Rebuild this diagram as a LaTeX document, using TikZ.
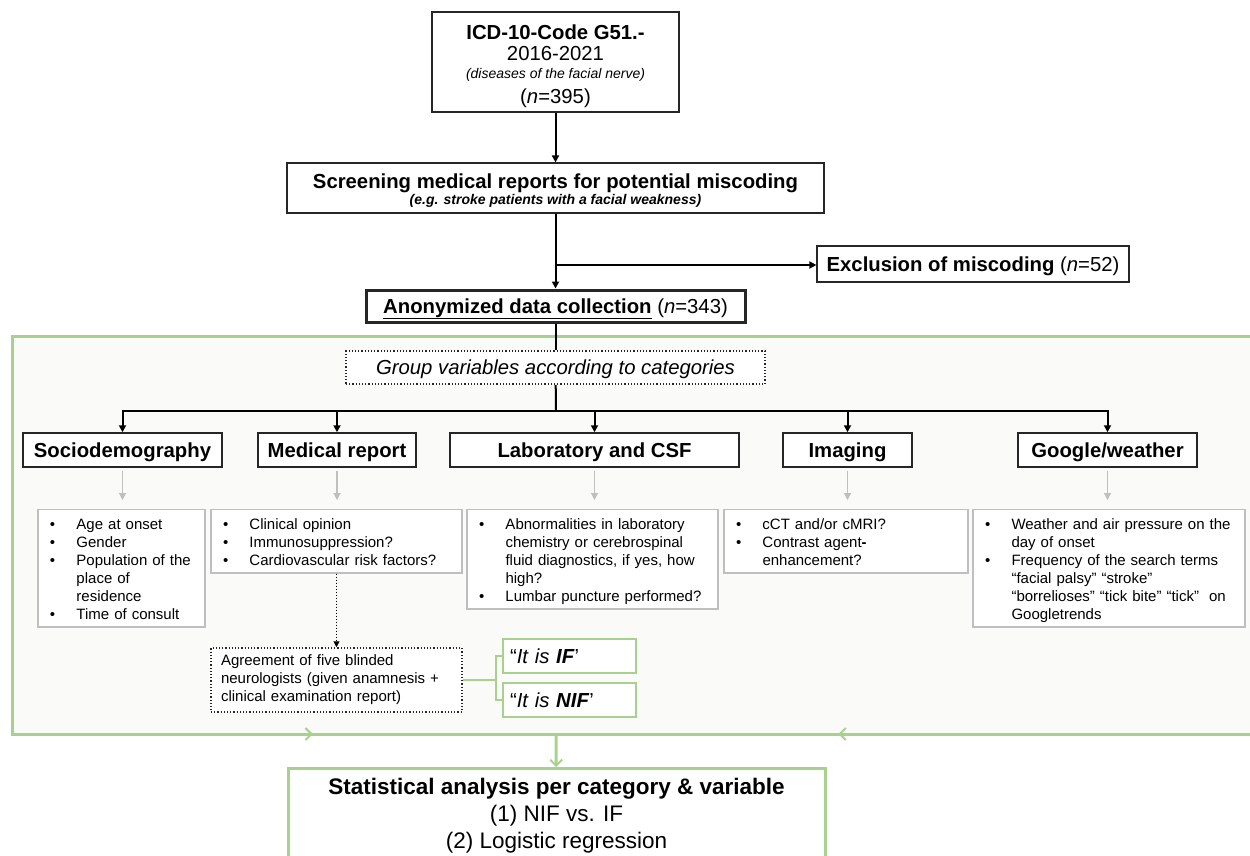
\documentclass[tikz,border=0pt]{standalone}
\usepackage{fontspec}
\setmainfont{Liberation Sans}
\usepackage{tikz}
\usetikzlibrary{
    arrows.meta,
    positioning,
    decorations.markings,
    calc
}
\definecolor{frame green}{RGB}{169,209,142}
\definecolor{frame fill}{RGB}{250,250,248}
\definecolor{list gray}{RGB}{191,191,191}
\definecolor{box line}{RGB}{38,38,38}
\tikzset{
    % Colors
    nice green/.style={color=frame green},
    light gray/.style={color=list gray},
    %
    % Fonts
    big font/.style={font=\fontsize{20.3}{23}\selectfont},
    head font/.style={font=\fontsize{20.3}{23}\selectfont\bfseries},
    list font/.style={font=\fontsize{15}{18}\selectfont},
    one line/.style={text height=18.4pt,text depth=4.3pt},
    %
    % Boxes
    flow box/.style={draw=box line,line width=1.2pt,fill=white,align=center,inner sep=0pt,big font},
    cat box/.style={flow box,line width=1.5pt,minimum height=34,head font,one line},
    list box/.style={draw=list gray,line width=1.2pt,fill=white,anchor=north,align=left,inner xsep=7pt,inner ysep=2pt,list font},
    frame box/.style={draw=frame green,line width=3pt,fill=frame fill,inner sep=0pt,outer sep=0pt},
    answer box/.style={draw=frame green,line width=1.2pt,fill=white,minimum width=133,minimum height=34,text width=119,inner xsep=7pt,align=left,big font,one line},
    %
    % Arrows
    arrow tip/.tip={Triangle[length=7pt,width=7pt]},
    green tip/.tip={Straight Barb[length=6pt,width=12pt,line width=2pt]},
    flow line/.style={line width=2pt},
    arr/.style={flow line,-{arrow tip}},
    gray arr/.style={light gray,line width=1.2pt,-{Triangle[length=7pt,width=7pt]},shorten <=3pt,shorten >=9pt},
    dotted arr/.style={line width=1pt,dotted,-{Triangle[length=6pt,width=6pt]}},
    green line/.style={nice green,line width=3pt},
    green arr/.style={green line,-{green tip}},
    midarrow/.style={postaction=decorate,decoration={markings, mark=at position #1 with {\arrow[nice green]{green tip}}}},
    midarrow/.default=.5
}
% one bullet of a list box, continuation lines hang under the text
\newcommand{\bul}[1]{\par\hangindent=31.5pt\hangafter=1\noindent\makebox[31.5pt][l]{\hspace{5pt}\textbullet}\strut#1\strut\par}

\begin{document}
\begin{tikzpicture}[x=1pt,y=-1pt]
    \useasboundingbox (0,0) rectangle (1250,856);
    % green frame around the variables
    \node[frame box,minimum width=1250,minimum height=398] (frame) at (637,535) {};

    \node[flow box,minimum width=247,minimum height=100,font=\fontsize{20.3}{21}\selectfont] (icd) at (555.5,62)
        {\rule{0pt}{23pt}{\bfseries ICD-10-Code G51.-}\\2016-2021\\[-2.3pt]{\fontsize{14}{16}\selectfont\itshape (diseases of the facial nerve)}\\[3.5pt](\textit{n}=395)};
    \node[flow box,minimum width=537,minimum height=50] (screen) at (555.5,188)
        {\rule{0pt}{19.5pt}{\bfseries Screening medical reports for potential miscoding}\\[-7pt]{\fontsize{14}{16}\selectfont\bfseries\itshape (e.g. stroke patients with a facial weakness)}};
    \node[flow box,one line,minimum width=312,minimum height=36] (excl) at (973,264)
        {{\bfseries Exclusion of miscoding} (\textit{n}=52)};
    \node[flow box,one line,line width=3pt,minimum width=379,minimum height=32] (anon) at (555.5,306)
        {\underline{\bfseries Anonymized data collection} (\textit{n}=343)};
    \node[flow box,one line,dotted,line width=2pt,minimum width=419,minimum height=33] (group) at (555.5,367.5)
        {\itshape Group variables according to categories};

    \draw[arr] (icd) -- (screen);
    \draw[arr] (screen) -- (anon);
    \coordinate (excl split) at (556,265);
    \draw[arr] (excl split) -- (excl split -| excl.west);
    \draw[flow line] (anon) -- (group);

    % categories
    \node[cat box,minimum width=199] (socio) at (122.5,450) {Sociodemography};
    \node[cat box,minimum width=158] (medical) at (337,450) {Medical report};
    \node[cat box,minimum width=289] (lab) at (594.5,450) {Laboratory and CSF};
    \node[cat box,minimum width=129] (imaging) at (847.5,450) {Imaging};
    \node[cat box,minimum width=179] (google) at (1107.5,450) {Google/weather};

    \coordinate (split) at (556,411);
    \draw[flow line] (group) -- (split);
    \foreach \c in {socio,medical,lab,imaging,google}{
        \draw[arr] (split) -| (\c);
    }

    % variables per category
    \node[list box,text width=153] (socio list) at (121.5,509)
        {\bul{Age at onset}\bul{Gender}\bul{Population of the\newline place of\newline residence}\bul{Time of consult}};
    \node[list box,text width=237] (medical list) at (336.5,509)
        {\bul{Clinical opinion}\bul{Immunosuppression?}\bul{Cardiovascular risk factors?}};
    \node[list box,text width=237] (lab list) at (592.5,509)
        {\bul{Abnormalities in laboratory\newline chemistry or cerebrospinal\newline fluid diagnostics, if yes, how\newline high?}\bul{Lumbar puncture performed?}};
    \node[list box,text width=230] (imaging list) at (846,509)
        {\bul{cCT and/or cMRI?}\bul{Contrast agent\textbf{-}\newline enhancement?}};
    \node[list box,text width=258] (google list) at (1109,509)
        {\bul{Weather and air pressure on the\newline day of onset}\bul{Frequency of the search terms\newline “facial palsy” “stroke”\newline “borrelioses” “tick bite” “tick”~ on\newline Googletrends}};

    \foreach \c in {socio,medical,lab,imaging,google}{
        \draw[gray arr] (\c.south) -- (\c.south |- \c\space list.north);
    }

    % blinded rating
    \node[flow box,dotted,line width=1.5pt,minimum width=251,minimum height=64,text width=231,inner xsep=10pt,align=left,list font] (agree) at (336.5,680)
        {\strut Agreement of five blinded\\neurologists (given anamnesis +\\clinical examination report)\strut};
    \node[answer box] (is if) at (569.5,656) {“\textit{It is \textbf{IF}}’};
    \node[answer box] (is nif) at (569.5,700) {“\textit{It is \textbf{NIF}}’};
    \draw[dotted arr] (medical list) -- (agree);
    \draw[nice green,line width=1.5pt] (agree.east) -- ++(33,0) |- (is if.west);
    \draw[nice green,line width=1.5pt] (agree.east) -- ++(33,0) |- (is nif.west);

    % statistics
    \coordinate (join) at (556,734);
    \draw[green line,midarrow=.553] (frame.south west) -- (join);
    \draw[green line,midarrow=.6] (frame.south east) -- (join);
    \node[flow box,draw=frame green,line width=3pt,anchor=north,minimum width=537,inner ysep=10pt,font=\fontsize{22.5}{27}\selectfont] (stat) at (556.5,767)
        {{\bfseries Statistical analysis per category \& variable}\\(1) NIF vs. IF\\(2) Logistic regression\\[20pt]};
    \draw[green arr] (join) -- (stat);
\end{tikzpicture}
\end{document}
